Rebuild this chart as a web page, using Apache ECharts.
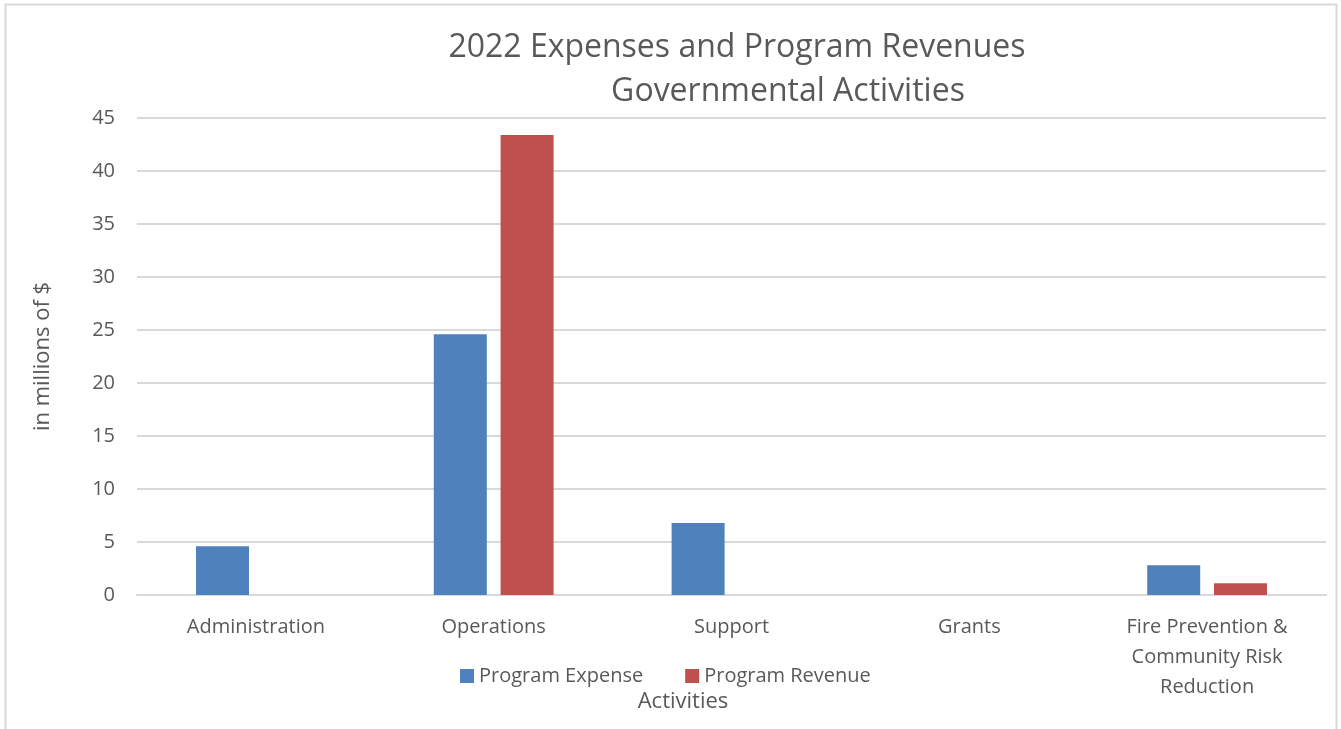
<!DOCTYPE html>
<html>
<head>
<meta charset="utf-8">
<script src="https://cdn.jsdelivr.net/npm/echarts@6/dist/echarts.min.js"></script>
<style>
html,body{margin:0;padding:0;background:#fff;}
#c{width:1341px;height:729px;}
</style>
</head>
<body>
<div id="c"></div>
<script>
const categories = ['Administration', 'Operations', 'Support', 'Grants', 'Fire Prevention &\nCommunity Risk\nReduction'];
const programExpense = [4.6, 24.6, 6.8, 0, 2.8];
const programRevenue = [0, 43.4, 0, 0, 1.1];
const yTicks = [0, 5, 10, 15, 20, 25, 30, 35, 40, 45];

const font = '"Open Sans", "Noto Sans", sans-serif';
const chart = echarts.init(document.getElementById('c'));
chart.setOption({
  animation: false,
  textStyle: {fontFamily: font},
  graphic: [{
    type: 'rect', shape: {x: 5.5, y: 4.5, width: 1331, height: 740},
    style: {fill: 'none', stroke: '#d9d9d9', lineWidth: 2}, silent: true, z: -1
  }],
  title: [
    {text: '2022 Expenses and Program Revenues', left: 732, top: 27, textAlign: 'center',
     textStyle: {fontSize: 32, fontWeight: 'normal', color: '#595959', fontFamily: font}},
    {text: 'Governmental Activities', left: 783, top: 71, textAlign: 'center',
     textStyle: {fontSize: 32, fontWeight: 'normal', color: '#595959', fontFamily: font}}
  ],
  legend: {
    data: ['Program Expense', 'Program Revenue'],
    left: 455, top: 661, itemWidth: 14, itemHeight: 14, itemGap: 42,
    icon: 'rect',
    textStyle: {fontSize: 20, color: '#595959', fontFamily: font}
  },
  grid: {left: 137, right: 15, top: 118, bottom: 134, outerBoundsMode: 'none', containLabel: false},
  xAxis: {
    type: 'category', data: categories,
    name: 'Activities', nameLocation: 'middle', nameGap: 96, nameMoveOverlap: false,
    nameTextStyle: {fontSize: 22, color: '#595959', fontFamily: font, padding: [0, 97, 0, 0]},
    axisLine: {lineStyle: {color: '#d9d9d9', width: 2}},
    axisTick: {show: false},
    axisLabel: {fontSize: 20, color: '#595959', lineHeight: 30, margin: 17, interval: 0, fontFamily: font}
  },
  yAxis: {
    type: 'value', min: 0, max: 45, interval: 5,
    name: 'in millions of $', nameLocation: 'middle', nameGap: 83, nameRotate: 90,
    nameTextStyle: {fontSize: 22, color: '#595959', fontFamily: font},
    axisLine: {show: false}, axisTick: {show: false},
    axisLabel: {fontSize: 20, color: '#595959', margin: 22, fontFamily: font,
      formatter: v => yTicks.includes(v) ? String(v) : ''},
    splitLine: {lineStyle: {color: '#d9d9d9', width: 2}}
  },
  series: [
    {name: 'Program Expense', type: 'bar', data: programExpense, barWidth: 53, barGap: '26%',
     itemStyle: {color: '#4f81bd'}},
    {name: 'Program Revenue', type: 'bar', data: programRevenue, barWidth: 53,
     itemStyle: {color: '#c0504d'}}
  ]
});
</script>
</body>
</html>
